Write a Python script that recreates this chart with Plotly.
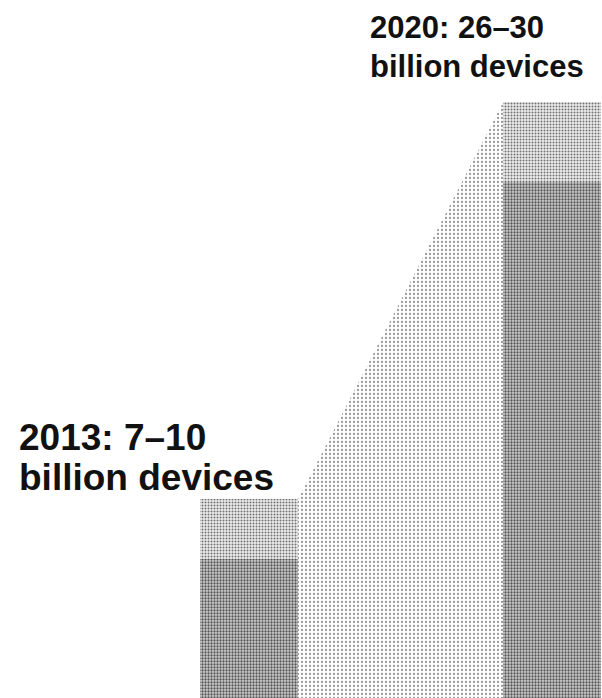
import plotly.graph_objects as go

# Connected-device estimates, in billions
years = [2013, 2020]
low_estimate = [7, 26]
high_estimate = [10, 30]
label_lines = [["2013: 7–10", "billion devices"], ["2020: 26–30", "billion devices"]]

bar_width = 2.264
upper_range = [h - l for h, l in zip(high_estimate, low_estimate)]

fig = go.Figure()

# Growth wedge linking the two high estimates
x_left = years[0] + bar_width / 2
x_right = years[1] - bar_width / 2
fig.add_trace(go.Scatter(
    x=[x_left, x_right, x_right, x_left, x_left],
    y=[high_estimate[0], high_estimate[1], 0, 0, high_estimate[0]],
    mode="none",
    fill="toself",
    fillcolor="white",
    fillpattern=dict(shape=".", fgcolor="#9a9a9a", bgcolor="white",
                     size=4, solidity=0.25, fillmode="replace"),
    hoverinfo="skip",
    showlegend=False,
))

# Lower bound of each estimate
fig.add_trace(go.Bar(
    x=years, y=low_estimate, width=bar_width,
    marker=dict(color="#b4b4b4", line=dict(width=0),
                pattern=dict(shape=".", fgcolor="#555555", bgcolor="#d0d0d0",
                             size=3, solidity=0.45, fillmode="replace")),
    showlegend=False,
))

# Spread between low and high estimate
fig.add_trace(go.Bar(
    x=years, y=upper_range, base=low_estimate, width=bar_width,
    marker=dict(color="#d8d8d8", line=dict(width=0),
                pattern=dict(shape=".", fgcolor="#707070", bgcolor="#eeeeee",
                             size=3, solidity=0.35, fillmode="replace")),
    showlegend=False,
))

# Year labels: left x, line centres (px from top), font size
label_layout = [(17, [437, 477], 37), (368, [27, 66], 31)]
for lines, (px, centres, fsize) in zip(label_lines, label_layout):
    for line, cy in zip(lines, centres):
        fig.add_annotation(
            text=line, xref="paper", yref="paper",
            x=px / 602, y=1 - cy / 698, xanchor="left", yanchor="middle",
            align="left", showarrow=False,
            font=dict(family="Liberation Sans", size=fsize, color="#111111",
                      weight="bold"),
        )

fig.update_layout(
    width=602, height=698,
    margin=dict(l=0, r=0, t=0, b=0),
    paper_bgcolor="white", plot_bgcolor="white",
    barmode="overlay", bargap=0,
    xaxis=dict(range=[2007.248, 2021.155], visible=False, fixedrange=True),
    yaxis=dict(range=[0, 35.16], visible=False, fixedrange=True),
)

fig.write_html("out.html")
